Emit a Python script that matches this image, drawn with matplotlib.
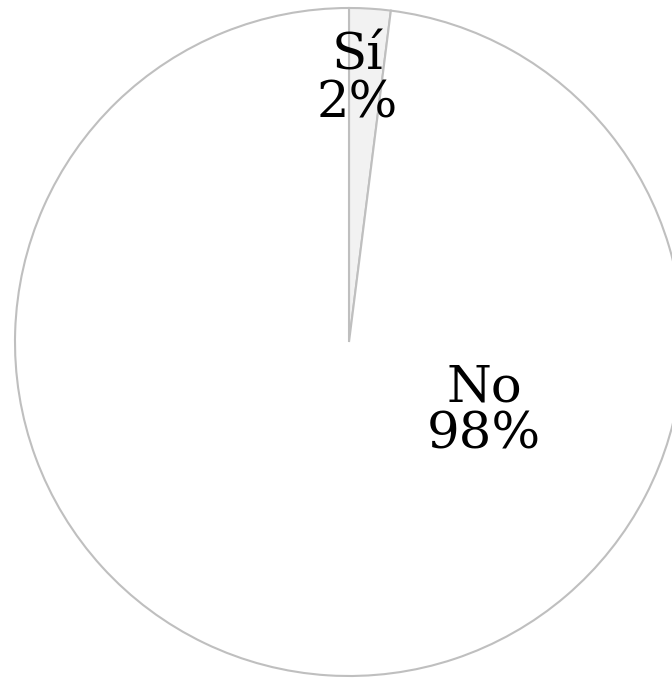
import matplotlib
matplotlib.use("Agg")
import matplotlib.pyplot as plt

labels = ["Sí", "No"]
values = [2, 98]
colors = ["#f2f2f2", "#ffffff"]

fig = plt.figure(figsize=(6.72, 6.78), dpi=100)
ax = fig.add_axes([0, 0, 1, 1])

wedges, _ = ax.pie(values, colors=colors, startangle=90, counterclock=False,
                   radius=1.0, center=(0, 0),
                   wedgeprops=dict(edgecolor="#bfbfbf", linewidth=1.5))

# label positions inside the slices
label_pos = [(0.024, 0.785), (0.404, -0.207)]
total = sum(values)
for lab, v, (x, y) in zip(labels, values, label_pos):
    ax.text(x, y, f"{lab}\n{round(100 * v / total)}%", ha="center", va="center",
            fontsize=37, family="DejaVu Serif", linespacing=0.95)

ax.set_xlim(-349 / 334, (672 - 349) / 334)
ax.set_ylim((342 - 678) / 334, 342 / 334)
ax.set_aspect("auto")
ax.axis("off")

fig.savefig("out.png", dpi=100)
plt.close(fig)
